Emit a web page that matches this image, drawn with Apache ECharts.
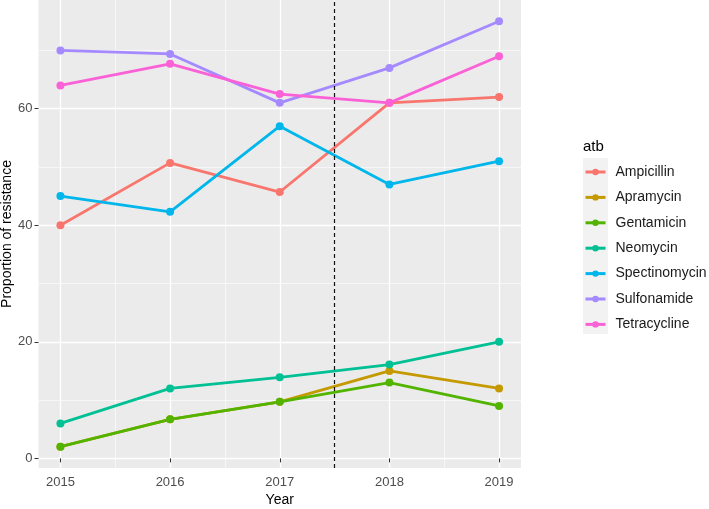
<!DOCTYPE html>
<html>
<head>
<meta charset="utf-8">
<script src="https://cdn.jsdelivr.net/npm/echarts@6/dist/echarts.min.js"></script>
<style>
  html, body { margin: 0; padding: 0; background: #fff; }
  #chart { width: 709px; height: 509px; }
</style>
</head>
<body>
<div id="chart"></div>
<script>
// data
const years = [2015, 2016, 2017, 2018, 2019]
const ampicillin = [40, 50.7, 45.7, 61, 62]
const apramycin = [2, 6.7, 9.7, 15, 12]
const gentamicin = [2, 6.7, 9.7, 13, 9]
const neomycin = [6, 12, 13.9, 16.1, 20]
const spectinomycin = [45, 42.3, 57, 47, 51]
const sulfonamide = [70, 69.4, 61, 67, 75]
const tetracycline = [64, 67.7, 62.5, 61, 69]

const seriesNames = ['Ampicillin', 'Apramycin', 'Gentamicin', 'Neomycin', 'Spectinomycin', 'Sulfonamide', 'Tetracycline']
const seriesValues = [ampicillin, apramycin, gentamicin, neomycin, spectinomycin, sulfonamide, tetracycline]
const colors = ['#F8766D', '#C49A00', '#53B400', '#00C094', '#00B6EB', '#A58AFF', '#FB61D7']

const xMajorTicks = [2015, 2016, 2017, 2018, 2019]
const xMinorTicks = [2015.5, 2016.5, 2017.5, 2018.5]
const yMajorTicks = [0, 20, 40, 60]
const yMinorTicks = [10, 30, 50, 70]
const cutYear = 2017.5

const font = "'Liberation Sans', Arial, sans-serif"
const xRange = [2014.8, 2019.2]
const yRange = [-1.65, 78.65]

const chart = echarts.init(document.getElementById('chart'))

const series = seriesNames.map((name, i) => ({
  name,
  type: 'line',
  data: years.map((y, j) => [y, seriesValues[i][j]]),
  symbol: 'circle',
  symbolSize: 8,
  color: colors[i],
  lineStyle: { width: 2.8, color: colors[i] },
  itemStyle: { color: colors[i] },
  emphasis: { disabled: true },
  z: 3,
}))

// vertical dashed cut line
series.push({
  name: 'cut',
  type: 'line',
  data: [],
  markLine: {
    silent: true,
    symbol: 'none',
    label: { show: false },
    lineStyle: { color: '#111', type: [4, 3], width: 1.2 },
    data: [{ xAxis: cutYear }],
  },
  z: 2,
})

chart.setOption({
  animation: false,
  textStyle: { fontFamily: font },
  title: {
    text: 'atb',
    left: 583,
    top: 139,
    padding: 0,
    textStyle: { fontFamily: font, fontSize: 15, fontWeight: 'normal', color: '#000' },
  },
  graphic: [
    {
      type: 'rect',
      left: 583,
      top: 158,
      shape: { width: 25, height: 176 },
      style: { fill: '#F2F2F2' },
      z: -1,
    },
  ],
  legend: {
    data: seriesNames,
    orient: 'vertical',
    left: 584,
    top: 165,
    padding: 0,
    itemWidth: 20,
    itemHeight: 8,
    itemGap: 11.4,
    lineStyle: { width: 3 },
    textStyle: { fontFamily: font, fontSize: 14, color: '#1A1A1A', padding: [0, 0, 0, 5] },
  },
  grid: {
    left: 38.5,
    right: 188,
    top: 0,
    bottom: 41,
    outerBoundsMode: 'none',
    show: true,
    backgroundColor: '#EBEBEB',
    borderWidth: 0,
  },
  xAxis: [
    {
      type: 'value',
      min: xRange[0],
      max: xRange[1],
      name: 'Year',
      nameLocation: 'middle',
      nameGap: 25,
      nameMoveOverlap: false,
      nameTextStyle: { fontFamily: font, fontSize: 14, color: '#000' },
      axisLine: { show: false },
      axisTick: { show: true, length: 4, customValues: xMajorTicks, lineStyle: { color: '#333' } },
      axisLabel: {
        customValues: xMajorTicks,
        formatter: (v) => String(v),
        margin: 8,
        fontSize: 13,
        color: '#4D4D4D',
        fontFamily: font,
      },
      splitLine: { show: true, lineStyle: { color: '#fff', width: 1.3 } },
    },
    {
      type: 'value',
      min: xRange[0],
      max: xRange[1],
      axisLine: { show: false },
      axisTick: { show: false, customValues: xMinorTicks },
      axisLabel: { show: false, customValues: xMinorTicks },
      splitLine: { show: true, lineStyle: { color: '#fff', width: 0.6 } },
    },
  ],
  yAxis: [
    {
      type: 'value',
      min: yRange[0],
      max: yRange[1],
      name: 'Proportion of resistance',
      nameLocation: 'middle',
      nameGap: 24.5,
      nameMoveOverlap: false,
      nameTextStyle: { fontFamily: font, fontSize: 14, color: '#000' },
      axisLine: { show: false },
      axisTick: { show: true, length: 4, customValues: yMajorTicks, lineStyle: { color: '#333' } },
      axisLabel: { customValues: yMajorTicks, margin: 6, fontSize: 13, color: '#4D4D4D', fontFamily: font },
      splitLine: { show: true, lineStyle: { color: '#fff', width: 1.3 } },
    },
    {
      type: 'value',
      min: yRange[0],
      max: yRange[1],
      axisLine: { show: false },
      axisTick: { show: false, customValues: yMinorTicks },
      axisLabel: { show: false, customValues: yMinorTicks },
      splitLine: { show: true, lineStyle: { color: '#fff', width: 0.6 } },
    },
  ],
  series,
})

window.addEventListener('resize', () => chart.resize())
</script>
</body>
</html>
